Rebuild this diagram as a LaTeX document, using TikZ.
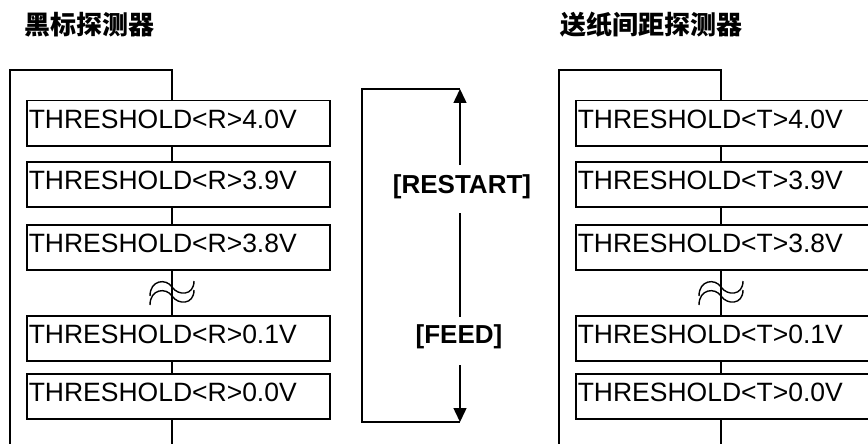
\documentclass[tikz,border=0pt]{standalone}
\usepackage{fontspec}
\setmainfont{Liberation Sans}
\newfontfamily\cjk{Noto Sans CJK SC}
\usetikzlibrary{arrows.meta}
\begin{document}
\begin{tikzpicture}[x=1pt,y=-1pt,line width=1.5pt,
  thbox/.style={draw,rectangle,anchor=north west,minimum width=303pt,minimum height=45pt,
    inner xsep=2pt,inner ysep=0pt,text width=299pt,align=left,
    font=\fontsize{26.5}{30}\selectfont,text height=18.8pt,text depth=8pt},
  title/.style={anchor=west,inner sep=0pt,font=\cjk\bfseries\fontsize{26}{30}\selectfont},
  keylbl/.style={font=\bfseries\fontsize{26}{30}\selectfont,inner sep=0pt,anchor=base},
  arrowline/.style={-{Triangle[width=13pt,length=14pt]}},
  wave/.style={line width=1.4pt}
]
\useasboundingbox (0,0) rectangle (868,444);
\clip (0,0) rectangle (868,444);

% titles
\node[title] (t1) at (24,25) {黑标探测器};
\node[title] (t2) at (560,25) {送纸间距探测器};

% two panels
\foreach \p/\dx/\L in {a/0/R,b/549/T}{
  \coordinate (\p TL) at (10+\dx,70);
  \coordinate (\p TR) at (172+\dx,70);
  \coordinate (\p BL) at (10+\dx,444);
  \coordinate (\p BR) at (172+\dx,444);
  \node[thbox] (\p1) at (26+\dx,100) {THRESHOLD<\L>4.0V};
  \node[thbox] (\p2) at (26+\dx,161) {THRESHOLD<\L>3.9V};
  \node[thbox] (\p3) at (26+\dx,224) {THRESHOLD<\L>3.8V};
  \node[thbox] (\p4) at (26+\dx,315) {THRESHOLD<\L>0.1V};
  \node[thbox] (\p5) at (26+\dx,373) {THRESHOLD<\L>0.0V};
  \draw (\p BL) -- (\p TL) -- (\p TR) -- (\p TR |- \p1.north);
  \draw (\p TR |- \p1.south) -- (\p TR |- \p2.north);
  \draw (\p TR |- \p2.south) -- (\p TR |- \p3.north);
  \draw (\p TR |- \p3.south) -- (\p TR |- \p4.north);
  \draw (\p TR |- \p4.south) -- (\p TR |- \p5.north);
  \draw (\p TR |- \p5.south) -- (\p BR);
  % break symbol
  \begin{scope}[shift={(\dx,0)}]
    \draw[wave] (150,296) .. controls (150,280) and (166,278) .. (172,287)
                .. controls (178,296) and (194,296) .. (194,281);
    \draw[wave] (150,305) .. controls (150,289) and (166,287) .. (172,296)
                .. controls (178,305) and (194,305) .. (194,290);
  \end{scope}
}

% middle loop
\coordinate (MTL) at (362,89);
\coordinate (MTR) at (460,89);
\coordinate (MBL) at (362,422);
\coordinate (MBR) at (460,422);
\node[keylbl] (restart) at (462,193) {[RESTART]};
\node[keylbl] (feed) at (459,343) {[FEED]};
\coordinate (r1) at (460,165);
\coordinate (r2) at (460,213);
\coordinate (f1) at (460,317);
\coordinate (f2) at (460,365);
\draw (MTR) -- (MTL) -- (MBL) -- (MBR);
\draw[arrowline] (r1) -- (MTR);
\draw (r2) -- (f1);
\draw[arrowline] (f2) -- (MBR);
\end{tikzpicture}
\end{document}
